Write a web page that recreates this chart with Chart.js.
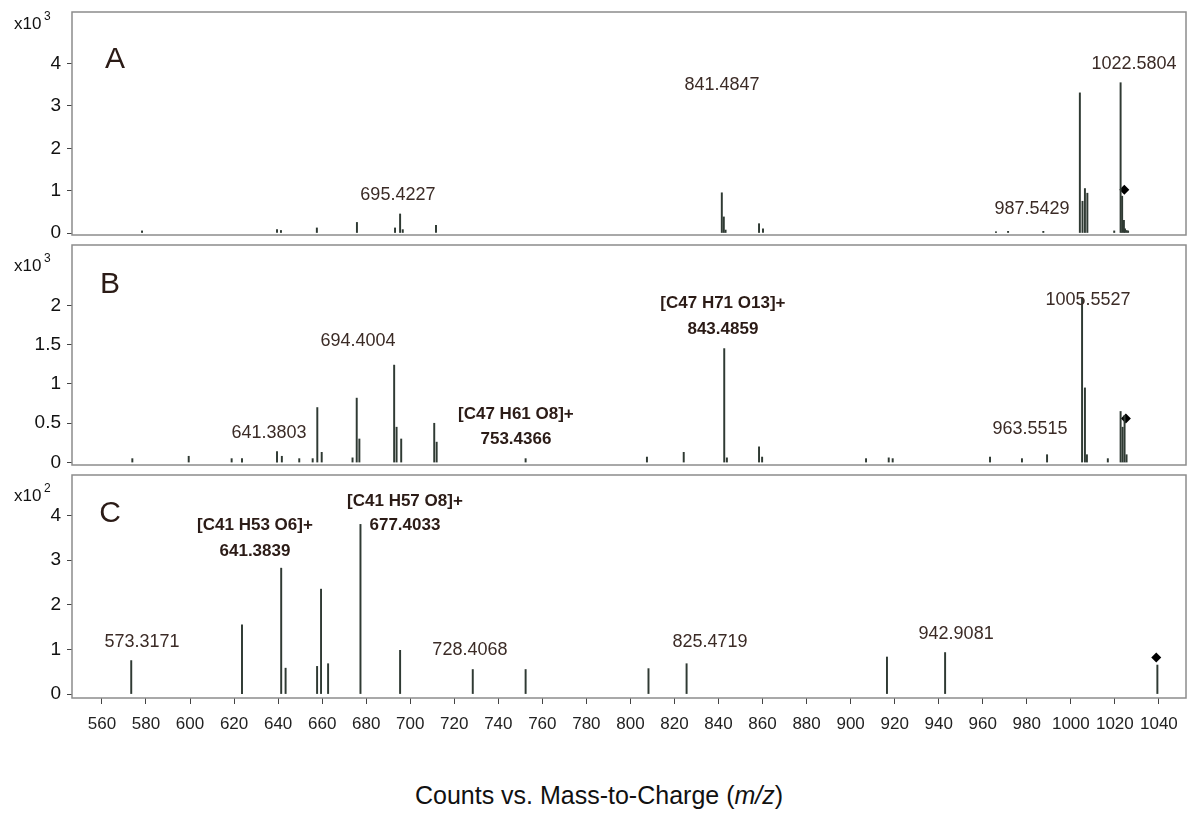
<!DOCTYPE html>
<html>
<head>
<meta charset="utf-8">
<script src="https://cdn.jsdelivr.net/npm/chart.js@4/dist/chart.umd.min.js"></script>
<style>
  body { margin: 0; background: #fff; width: 1198px; height: 821px; position: relative; overflow: hidden; font-family: Arial, "Liberation Sans", sans-serif; }
  .panel { position: absolute; left: 0; width: 1198px; }
  #title { position: absolute; top: 781px; left: 0; width: 1198px; text-align: center; font-size: 25px; color: #111; }
</style>
</head>
<body>
<div class="panel" style="top:0;height:240px"><canvas id="chartA"></canvas></div>
<div class="panel" style="top:240px;height:230px"><canvas id="chartB"></canvas></div>
<div class="panel" style="top:470px;height:300px"><canvas id="chartC"></canvas></div>
<div id="title">Counts vs. Mass-to-Charge (<i>m/z</i>)</div>
<script>
// Peak lists (m/z, intensity in axis units)
const mzA = [578.2, 639.5, 641.3, 657.6, 675.8, 693.1, 695.4, 696.6, 711.7, 841.5, 842.4, 843.2, 858.4, 860.2,
             966.0, 971.5, 987.5, 1004.1, 1005.3, 1006.4, 1007.5, 1019.7, 1022.6, 1023.3, 1024.1, 1024.6, 1025.3, 1026.0];
const intA = [0.05, 0.08, 0.06, 0.12, 0.25, 0.12, 0.45, 0.08, 0.18, 0.95, 0.38, 0.07, 0.22, 0.10,
              0.03, 0.04, 0.04, 3.31, 0.75, 1.05, 0.94, 0.05, 3.55, 0.87, 0.30, 0.10, 0.06, 0.05];
const precA = [{ x: 1024.3, y: 1.02 }];

const mzB = [573.8, 599.4, 618.9, 623.6, 639.5, 641.7, 649.6, 655.7, 657.8, 659.8, 673.8, 675.7, 676.9,
             692.7, 693.8, 695.9, 710.9, 712.0, 752.4, 807.5, 824.2, 842.6, 843.8, 858.4, 859.8, 907.0,
             917.3, 919.1, 963.3, 977.8, 989.2, 1005.1, 1006.4, 1007.3, 1016.8, 1022.6, 1023.5, 1024.4, 1025.3];
const intB = [0.05, 0.08, 0.05, 0.05, 0.14, 0.08, 0.05, 0.05, 0.70, 0.13, 0.06, 0.82, 0.30,
              1.24, 0.45, 0.30, 0.50, 0.26, 0.05, 0.07, 0.13, 1.45, 0.06, 0.20, 0.07, 0.05,
              0.06, 0.05, 0.07, 0.05, 0.10, 2.10, 0.95, 0.10, 0.05, 0.65, 0.45, 0.60, 0.10];
const precB = [{ x: 1025.0, y: 0.56 }];

const mzC = [573.3, 623.6, 641.4, 643.4, 657.7, 659.5, 662.7, 677.4, 695.4, 728.4, 752.4, 808.2, 825.5, 916.5, 942.9, 1039.3];
const intC = [0.75, 1.55, 2.82, 0.58, 0.62, 2.35, 0.68, 3.80, 0.98, 0.55, 0.55, 0.57, 0.68, 0.83, 0.93, 0.65];
const precC = [{ x: 1038.8, y: 0.82 }];

// Tick labels
const xTicks = [560, 580, 600, 620, 640, 660, 680, 700, 720, 740, 760, 780, 800, 820, 840, 860, 880, 900, 920, 940, 960, 980, 1000, 1020, 1040];
const yTicksA = [0, 1, 2, 3, 4];
const yTicksB = [0, 0.5, 1, 1.5, 2];
const yTicksC = [0, 1, 2, 3, 4];

// Annotations: text, m/z, intensity, bold
const labelsA = [
  ['695.4227', 694.4, 0.89, false], ['841.4847', 841.6, 3.49, false],
  ['987.5429', 982.4, 0.56, false], ['1022.5804', 1028.7, 4.0, false]
];
const labelsB = [
  ['641.3803', 635.9, 0.37, false], ['694.4004', 676.3, 1.54, false],
  ['[C47 H61 O8]+', 748.0, 0.61, true], ['753.4366', 748.0, 0.29, true],
  ['[C47 H71 O13]+', 842.0, 2.02, true], ['843.4859', 842.0, 1.70, true],
  ['963.5515', 981.5, 0.43, false], ['1005.5527', 1007.8, 2.07, false]
];
const labelsC = [
  ['573.3171', 578.2, 1.17, false], ['[C41 H53 O6]+', 629.5, 3.78, true], ['641.3839', 629.5, 3.20, true],
  ['[C41 H57 O8]+', 697.6, 4.31, true], ['677.4033', 697.6, 3.78, true],
  ['728.4068', 727.1, 0.99, false], ['825.4719', 836.1, 1.17, false], ['942.9081', 947.9, 1.35, false]
];

const X_MIN = 546.4, X_MAX = 1052.3;

const annotate = {
  id: 'annotate',
  afterDraw(chart, args, opts) {
    const { ctx, chartArea: a, scales } = chart;
    ctx.save();
    ctx.strokeStyle = '#8c8c8c';
    ctx.lineWidth = 1.5;
    ctx.strokeRect(a.left, a.top, a.right - a.left, a.bottom - a.top);
    ctx.textAlign = 'center';
    ctx.textBaseline = 'middle';
    opts.labels.forEach(([t, mx, my, bold]) => {
      ctx.font = (bold ? 'bold 17px' : '18px') + ' Arial, "Liberation Sans", sans-serif';
      ctx.fillStyle = bold ? '#2b1b16' : '#3b2b26';
      ctx.fillText(t, scales.x.getPixelForValue(mx), scales.y.getPixelForValue(my));
    });
    ctx.font = '30px Arial, "Liberation Sans", sans-serif';
    ctx.fillStyle = '#2b1b16';
    ctx.fillText(opts.letter[0], scales.x.getPixelForValue(opts.letter[1]), scales.y.getPixelForValue(opts.letter[2]));
    ctx.fillStyle = '#111';
    ctx.textAlign = 'left';
    ctx.font = '17px Arial, "Liberation Sans", sans-serif';
    ctx.fillText('x10', a.left - 58, a.top + opts.expY);
    ctx.font = '12px Arial, "Liberation Sans", sans-serif';
    ctx.fillText(opts.exp, a.left - 28, a.top + opts.expY - 7);
    ctx.restore();
  }
};

function makeChart(id, mz, inten, prec, labels, letter, exp, expY, yMin, yMax, yTicks, padTop, padBottom, showX) {
  const peaks = mz.map((m, i) => ({ x: m, y: inten[i] }));
  return new Chart(document.getElementById(id), {
    type: 'bar',
    data: {
      datasets: [
        { data: peaks, backgroundColor: '#2f3a33', barThickness: 1.3, grouped: false },
        { type: 'scatter', data: prec, pointStyle: 'rectRot', pointRadius: 5, backgroundColor: '#000', borderWidth: 0 }
      ]
    },
    options: {
      responsive: true, maintainAspectRatio: false, animation: false,
      layout: { padding: { top: padTop, bottom: padBottom, right: 12, left: 0 } },
      plugins: { legend: { display: false }, tooltip: { enabled: false },
        annotate: { labels: labels, letter: letter, exp: exp, expY: expY } },
      scales: {
        x: {
          type: 'linear', min: X_MIN, max: X_MAX, display: showX, offset: false,
          afterBuildTicks: s => { s.ticks = xTicks.map(v => ({ value: v })); },
          afterFit: s => { s.height = showX ? 72 : 0; s.paddingLeft = 0; s.paddingRight = 0; },
          border: { display: false },
          grid: { drawOnChartArea: false, tickLength: 6, color: '#444', offset: false },
          ticks: { color: '#222', font: { size: 17 }, padding: 10, maxRotation: 0, autoSkip: false, callback: v => String(v) }
        },
        y: {
          min: yMin, max: yMax,
          afterBuildTicks: s => { s.ticks = yTicks.map(v => ({ value: v })); },
          afterFit: s => { s.width = 72; s.paddingTop = 0; s.paddingBottom = 0; },
          border: { display: false },
          grid: { drawOnChartArea: false, tickLength: 5, color: '#444' },
          ticks: { color: '#111', font: { size: 19 }, padding: 6, callback: v => String(v) }
        }
      }
    },
    plugins: [annotate]
  });
}

makeChart('chartA', mzA, intA, precA, labelsA, ['A', 565.9, 4.1], '3', 12, -0.047, 5.22, yTicksA, 12, 3, false);
makeChart('chartB', mzB, intB, precB, labelsB, ['B', 563.7, 2.26], '3', 21, -0.031, 2.768, yTicksB, 1, 3, false);
makeChart('chartC', mzC, intC, precC, labelsC, ['C', 563.7, 4.04], '2', 21, -0.088, 4.906, yTicksC, 1, 0, true);
</script>
</body>
</html>
